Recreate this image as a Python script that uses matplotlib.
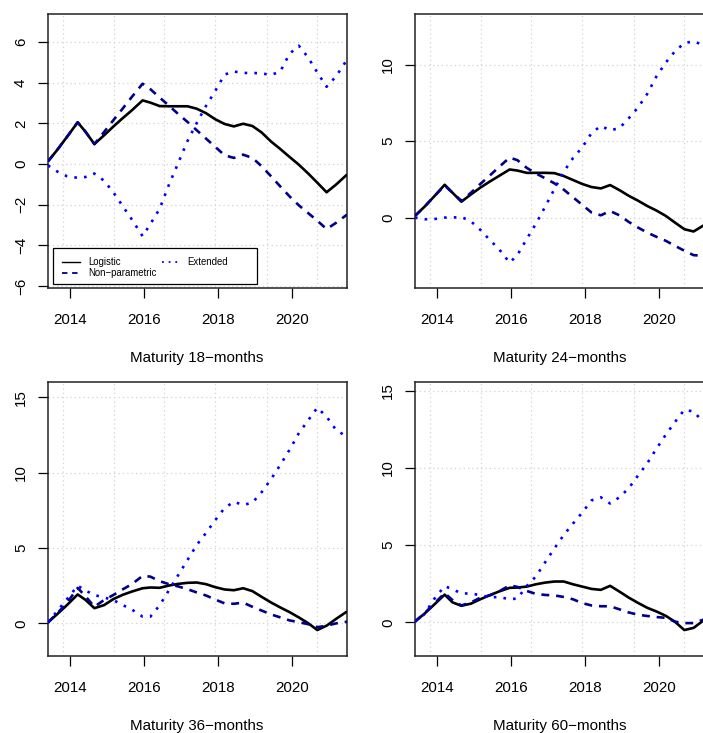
import matplotlib
matplotlib.use("Agg")
import matplotlib.pyplot as plt
from matplotlib.lines import Line2D
from matplotlib.patches import Rectangle

plt.rcParams['font.family'] = ['Liberation Sans', 'DejaVu Sans']

# quarterly observation dates (decimal years)
dates = [2013.41, 2013.67, 2013.92, 2014.21, 2014.42, 2014.66, 2014.92, 2015.17,
         2015.42, 2015.67, 2015.96, 2016.17, 2016.42, 2016.67, 2016.92, 2017.17,
         2017.42, 2017.67, 2017.92, 2018.17, 2018.42, 2018.67, 2018.92, 2019.17,
         2019.42, 2019.67, 2019.92, 2020.17, 2020.42, 2020.67, 2020.92, 2021.17,
         2021.47]

titles = ["Maturity 18\u2212months", "Maturity 24\u2212months",
          "Maturity 36\u2212months", "Maturity 60\u2212months"]
series_names = ["Logistic", "Non\u2212parametric", "Extended"]

# Maturity 18 months
logistic_18 = [0.13, 0.72, 1.33, 2.05, 1.59, 0.98, 1.41, 1.84, 2.25, 2.64, 3.13, 3.02,
               2.85, 2.84, 2.84, 2.84, 2.72, 2.50, 2.20, 1.97, 1.85, 1.98, 1.87, 1.55,
               1.11, 0.74, 0.35, -0.03, -0.46, -0.92, -1.39, -1.02, -0.52]
nonpar_18 = [0.13, 0.72, 1.33, 2.05, 1.59, 0.98, 1.57, 2.15, 2.72, 3.30, 3.95, 3.68,
             3.27, 2.87, 2.46, 2.07, 1.66, 1.25, 0.84, 0.43, 0.30, 0.46, 0.30, -0.11,
             -0.60, -1.10, -1.59, -2.03, -2.41, -2.79, -3.20, -2.90, -2.49]
extended_18 = [-0.07, -0.38, -0.60, -0.68, -0.64, -0.47, -0.82, -1.39, -2.06, -2.73,
               -3.55, -2.95, -2.20, -1.02, 0.05, 1.13, 2.02, 2.86, 3.60, 4.40, 4.55,
               4.48, 4.48, 4.46, 4.38, 4.55, 5.42, 5.82, 5.25, 4.50, 3.80, 4.30, 5.13]

# Maturity 24 months
logistic_24 = [0.11, 0.72, 1.37, 2.15, 1.63, 1.04, 1.52, 1.96, 2.35, 2.72, 3.15, 3.08,
               2.93, 2.93, 2.93, 2.91, 2.72, 2.46, 2.20, 2.00, 1.91, 2.13, 1.80, 1.43,
               1.11, 0.76, 0.46, 0.11, -0.33, -0.76, -0.91, -0.54, -0.20]
nonpar_24 = [0.11, 0.72, 1.37, 2.10, 1.63, 1.10, 1.63, 2.20, 2.74, 3.30, 3.93, 3.76,
             3.26, 2.89, 2.57, 2.24, 1.83, 1.33, 0.83, 0.33, 0.15, 0.43, 0.15, -0.28,
             -0.65, -0.98, -1.26, -1.52, -1.85, -2.17, -2.46, -2.50, -2.40]
extended_24 = [0.00, -0.11, -0.10, 0.00, 0.00, 0.04, -0.25, -0.80, -1.45, -2.05,
               -2.95, -2.45, -1.41, -0.40, 0.72, 1.88, 3.00, 3.90, 4.60, 5.54, 6.00,
               5.72, 5.85, 6.50, 7.20, 8.10, 9.25, 10.15, 10.90, 11.42, 11.55, 11.30,
               11.00]

# Maturity 36 months
logistic_36 = [0.07, 0.64, 1.21, 1.92, 1.56, 1.01, 1.21, 1.61, 1.89, 2.11, 2.33, 2.38,
               2.36, 2.51, 2.62, 2.69, 2.71, 2.60, 2.40, 2.25, 2.20, 2.33, 2.14, 1.76,
               1.39, 1.06, 0.75, 0.40, 0.02, -0.44, -0.15, 0.29, 0.79]
nonpar_36 = [0.07, 0.70, 1.35, 2.35, 1.80, 1.10, 1.55, 1.88, 2.25, 2.60, 3.15, 3.10,
             2.80, 2.60, 2.45, 2.27, 2.05, 1.85, 1.58, 1.33, 1.30, 1.38, 1.10, 0.85,
             0.60, 0.40, 0.20, 0.08, -0.05, -0.25, -0.15, 0.00, 0.11]
extended_36 = [0.07, 0.85, 1.60, 2.50, 2.18, 1.88, 1.72, 1.55, 1.22, 0.92, 0.45, 0.45,
               1.20, 2.20, 3.20, 4.20, 5.20, 6.00, 6.85, 7.65, 8.06, 7.85, 8.00, 8.70,
               9.55, 10.50, 11.50, 12.60, 13.45, 14.30, 13.70, 12.84, 12.36]

# Maturity 60 months
logistic_60 = [0.06, 0.58, 1.14, 1.80, 1.30, 1.08, 1.22, 1.50, 1.76, 2.00, 2.24, 2.26,
               2.32, 2.47, 2.58, 2.65, 2.65, 2.47, 2.32, 2.17, 2.11, 2.37, 2.00, 1.61,
               1.27, 0.95, 0.71, 0.43, 0.04, -0.49, -0.35, 0.10, 0.40]
nonpar_60 = [0.06, 0.60, 1.20, 1.90, 1.45, 1.10, 1.30, 1.60, 1.75, 2.00, 2.40, 2.30,
             2.04, 1.85, 1.78, 1.75, 1.65, 1.50, 1.25, 1.10, 1.05, 1.05, 0.85, 0.65,
             0.50, 0.42, 0.35, 0.30, 0.05, -0.04, -0.04, 0.17, 0.30]
extended_60 = [0.06, 0.55, 1.50, 2.35, 2.15, 1.88, 1.87, 1.77, 1.62, 1.65, 1.50, 1.55,
               2.35, 2.98, 3.90, 4.80, 5.66, 6.40, 7.12, 7.90, 8.10, 7.70, 8.10, 8.68,
               9.50, 10.30, 11.25, 12.15, 12.98, 13.76, 13.65, 13.00, 12.80]

panels = [
    (logistic_18, nonpar_18, extended_18),
    (logistic_24, nonpar_24, extended_24),
    (logistic_36, nonpar_36, extended_36),
    (logistic_60, nonpar_60, extended_60),
]

x_ticks = [2014, 2016, 2018, 2020]
x_grid = [2013.81, 2015.18, 2016.55, 2017.92, 2019.30, 2020.67]
y_ticks = [[-6, -4, -2, 0, 2, 4, 6], [0, 5, 10], [0, 5, 10, 15], [0, 5, 10, 15]]
y_limits = [(-6.1, 7.38), (-4.61, 13.33), (-2.16, 16.0), (-2.17, 15.56)]
x_limits = (2013.41, 2021.47)

W, H = 703, 733
fig = plt.figure(figsize=(W / 100, H / 100), dpi=100)

# axes boxes in pixels: (left, top, right, bottom)
boxes = [(48, 14, 347, 288), (415, 14, 714, 288),
         (48, 382, 347, 656), (415, 382, 714, 656)]
label_cx = [197, 560, 197, 560]

styles = [
    dict(color="black", lw=1.9, ls="-"),
    dict(color="#00008B", lw=1.9, ls=(0, (3.0, 2.6))),
    dict(color="#0000FF", lw=1.9, ls=(0, (1.0, 2.7))),
]

def fmt(v):
    return str(v).replace("-", "\u2212")

axes = []
for i, (l, t, r, b) in enumerate(boxes):
    ax = fig.add_axes([l / W, 1 - b / H, (r - l) / W, (b - t) / H])
    axes.append(ax)
    ax.set_xlim(*x_limits)
    ax.set_ylim(*y_limits[i])
    for g in x_grid:
        ax.axvline(g, color="#D3D3D3", lw=0.9, ls=(0, (1, 2.5)), zorder=1)
    for g in y_ticks[i]:
        ax.axhline(g, color="#D3D3D3", lw=0.9, ls=(0, (1, 2.5)), zorder=1)
    for data, st in zip(panels[i], styles):
        ax.plot(dates, data, color=st["color"], lw=st["lw"], ls=st["ls"],
                zorder=3, solid_capstyle="butt", dash_capstyle="butt")
    ax.set_xticks(x_ticks)
    ax.set_xticklabels([str(v) for v in x_ticks])
    ax.set_yticks(y_ticks[i])
    ax.set_yticklabels([fmt(v) for v in y_ticks[i]], rotation=90, va="center")
    ax.tick_params(axis="both", direction="out", length=7.4, width=0.9,
                   labelsize=10.9, colors="black")
    ax.tick_params(axis="x", pad=10.9)
    ax.tick_params(axis="y", pad=7.0)
    for sp in ax.spines.values():
        sp.set_linewidth(1.1)
        sp.set_color("#222222")
    fig.text(label_cx[i] / W, 1 - (b + 74) / H, titles[i], ha="center",
             va="baseline", fontsize=10.9)

# legend in first panel (drawn manually)
ax = axes[0]
ax.add_patch(Rectangle((0.018, 0.0146), 0.68, 0.131, transform=ax.transAxes,
                       facecolor="white", edgecolor="black", lw=0.9, zorder=5))
leg_rows = [(0.0458, 0.107, 0.135, 0.096, 0),
            (0.0458, 0.107, 0.135, 0.056, 1),
            (0.380, 0.441, 0.467, 0.096, 2)]
for x0, x1, xt, y, k in leg_rows:
    st = styles[k]
    ax.add_line(Line2D([x0, x1], [y, y], transform=ax.transAxes, color=st["color"],
                       lw=1.0 if k == 0 else 1.3, ls=st["ls"], zorder=6))
    ax.text(xt, y, series_names[k], transform=ax.transAxes, fontsize=6.9,
            va="center", ha="left", zorder=6)

fig.savefig("out.png", dpi=100)
